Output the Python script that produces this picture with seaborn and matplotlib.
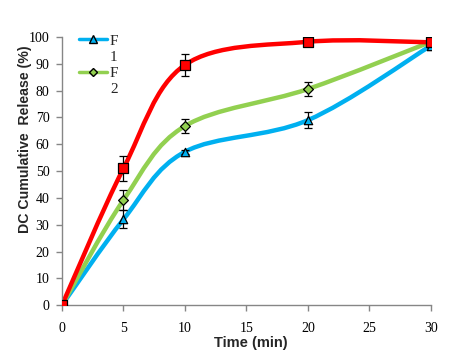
import matplotlib
matplotlib.use('Agg')
import matplotlib.pyplot as plt
from matplotlib.path import Path
from matplotlib.patches import PathPatch
from matplotlib.lines import Line2D
import seaborn as sns
import pandas as pd
import numpy as np

# Data
time_min = [0, 5, 10, 20, 30]
red_release = [0, 51.0, 89.6, 98.2, 98.0]
red_err = [0, 4.6, 4.2, 0.8, 0.6]
f1_release = [0, 32.0, 57.2, 69.0, 96.8]
f1_err = [0, 3.3, 0.8, 3.0, 1.0]
f2_release = [0, 39.2, 66.8, 80.6, 98.2]
f2_err = [0, 3.7, 2.5, 2.5, 0.6]

sns.set_style('ticks')
plt.rcParams['font.family'] = ['Liberation Serif', 'DejaVu Sans']

fig = plt.figure(figsize=(4.59, 3.59), dpi=100)
ax = fig.add_axes([0.135, 0.150, 0.804, 0.747])


# Excel style smoothed line: cubic Bezier through each point
def smooth_path(x, y):
    pts = np.column_stack([x, y]).astype(float)
    n = len(pts)
    verts = [pts[0]]
    codes = [Path.MOVETO]
    for i in range(n - 1):
        p0 = pts[max(i - 1, 0)]
        p1 = pts[i]
        p2 = pts[i + 1]
        p3 = pts[min(i + 2, n - 1)]
        c1 = p1 + (p2 - p0) / 6.0
        c2 = p2 - (p3 - p1) / 6.0
        verts += [c1, c2, p2]
        codes += [Path.CURVE4] * 3
    return Path(verts, codes)


series = [
    ('F1', f1_release, f1_err, '#00B0F0', '^', 6),
    ('F2', f2_release, f2_err, '#92D050', 'D', 5),
    ('Red', red_release, red_err, '#FF0000', 's', 7),
]

for name, vals, err, col, mk, ms in series:
    ax.add_patch(PathPatch(smooth_path(time_min, vals), facecolor='none',
                           edgecolor=col, lw=3.2, zorder=2, capstyle='round'))

for name, vals, err, col, mk, ms in series:
    ax.errorbar(time_min, vals, yerr=err, fmt='none', ecolor='black',
                elinewidth=0.9, capsize=3, capthick=0.9, zorder=3)
    df = pd.DataFrame({'t': time_min, 'v': vals})
    sns.scatterplot(data=df, x='t', y='v', marker=mk, s=ms ** 2, color=col,
                    edgecolor='black', linewidth=0.9, zorder=4, ax=ax)

ax.set_xlim(0, 30)
ax.set_ylim(0, 100)
ax.set_xticks(range(0, 31, 5))
ax.set_yticks(range(0, 101, 10))
for s in ['top', 'right']:
    ax.spines[s].set_visible(False)
for s in ['left', 'bottom']:
    ax.spines[s].set_color('#868686')
    ax.spines[s].set_linewidth(1)
ax.tick_params(axis='both', colors='#868686', labelcolor='black',
               labelsize=10, length=4, width=1)
ax.tick_params(axis='x', pad=8)
ax.tick_params(axis='y', pad=5)

ax.set_xlabel('Time (min)', fontsize=10.5, fontweight='bold',
              family='Liberation Sans')
ax.xaxis.set_label_coords(0.512, -0.115)
ax.set_ylabel('DC Cumulative  Release (%)', fontsize=10.2, fontweight='bold',
              family='Liberation Sans')
ax.yaxis.set_label_coords(-0.082, 0.62)

# legend text wraps as "F" / "1" in the original, handle sits on the first line
blank = Line2D([], [], color='none')
handles = [
    Line2D([], [], color='#00B0F0', lw=2.5, marker='^', ms=6,
           markerfacecolor='#00B0F0', markeredgecolor='black'),
    blank,
    Line2D([], [], color='#92D050', lw=2.5, marker='D', ms=4.5,
           markerfacecolor='#92D050', markeredgecolor='black'),
    blank,
]
ax.legend(handles, ['F', '1', 'F', '2'], loc='upper left',
          bbox_to_anchor=(0.01, 1.063), frameon=False, fontsize=11,
          handlelength=1.8, handletextpad=0.2, labelspacing=0.17)

fig.savefig('out.png', dpi=100)
